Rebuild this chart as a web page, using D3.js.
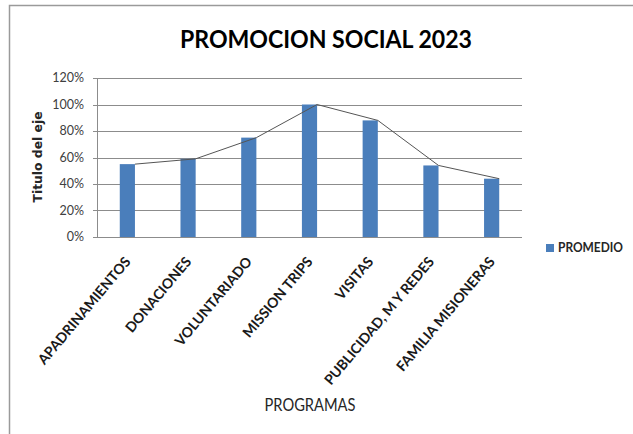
<!DOCTYPE html>
<html><head><meta charset="utf-8">
<script src="https://cdn.jsdelivr.net/npm/d3@7"></script>
<style>
html,body{margin:0;padding:0;background:#fff;}
svg{display:block;}
</style></head>
<body>
<script>
const categories = ["APADRINAMIENTOS","DONACIONES","VOLUNTARIADO","MISSION TRIPS","VISITAS","PUBLICIDAD, M Y REDES","FAMILIA MISIONERAS"];
const promedio = [0.55, 0.59, 0.75, 1.00, 0.88, 0.54, 0.44];
const yTicks = [0, 0.2, 0.4, 0.6, 0.8, 1.0, 1.2];
const seriesName = "PROMEDIO";
const title = "PROMOCION SOCIAL 2023";
const xTitle = "PROGRAMAS";
const yTitle = "Titulo del eje";

const W = 633, H = 434;
const svg = d3.select("body").append("svg").attr("width", W).attr("height", H);
const font = "Lato,'Open Sans',sans-serif";

// outer frame
svg.append("path").attr("d", `M9.5,${H} V5.5 H${W}`).attr("fill","none").attr("stroke","#9a9a9a").attr("stroke-width",1.5);

const plot = {l:97, r:522, t:78, b:237};
const x = d3.scaleBand().domain(categories).range([plot.l, plot.r]).paddingInner(0.75).paddingOuter(0.375);
const y = d3.scaleLinear().domain([0, 1.2]).range([plot.b, plot.t]);

// gridlines
svg.append("g").selectAll("line").data(yTicks).join("line")
  .attr("x1", plot.l - 4).attr("x2", plot.r)
  .attr("y1", d => Math.round(y(d)) + 0.5).attr("y2", d => Math.round(y(d)) + 0.5)
  .attr("stroke", "#8c8c8c").attr("stroke-width", 1);

// y axis line
svg.append("line").attr("x1", plot.l + 0.5).attr("x2", plot.l + 0.5).attr("y1", plot.t).attr("y2", plot.b)
  .attr("stroke", "#8c8c8c");

// y tick labels
svg.append("g").selectAll("text").data(yTicks).join("text")
  .attr("x", 84).attr("y", d => y(d)).attr("dy", "0.35em")
  .attr("text-anchor", "end").attr("font-family", font).attr("font-size", 12.5)
  .attr("fill", "#404040").text(d => d3.format(".0%")(d));

// bars
svg.append("g").selectAll("rect").data(promedio).join("rect")
  .attr("x", (d,i) => x(categories[i])).attr("width", x.bandwidth())
  .attr("y", d => y(d)).attr("height", d => y(0) - y(d))
  .attr("fill", "#4a7ebb");

// line connecting bar tops (right edges)
const line = d3.line()
  .x((d,i) => x(categories[i]) + x.bandwidth())
  .y(d => y(d));
svg.append("path").datum(promedio).attr("d", line)
  .attr("fill","none").attr("stroke","#555").attr("stroke-width",1);

// x labels
svg.append("g").selectAll("text").data(categories).join("text")
  .attr("transform", d => `translate(${x(d) + x.bandwidth()/2 + 4},${plot.b + 25}) rotate(-50)`)
  .attr("text-anchor","end").attr("font-family", font).attr("font-weight","bold")
  .attr("font-size", 14).attr("fill","#1a1a1a").text(d => d);

// title
svg.append("text").attr("x", 326).attr("y", 48).attr("text-anchor","middle")
  .attr("font-family", font).attr("font-weight","bold").attr("font-size", 24)
  .attr("textLength", 292).attr("lengthAdjust","spacingAndGlyphs")
  .attr("fill","#000").text(title);

// axis titles
svg.append("text").attr("x", 310).attr("y", 411).attr("text-anchor","middle")
  .attr("font-family", font).attr("font-size", 18).attr("textLength", 91).attr("lengthAdjust","spacingAndGlyphs")
  .attr("fill","#262626").text(xTitle);
svg.append("text").attr("transform", "translate(42,157) rotate(-90)").attr("text-anchor","middle")
  .attr("font-family", "'DejaVu Sans',Verdana,sans-serif").attr("font-weight","bold").attr("font-size", 12.5)
  .attr("textLength", 91).attr("lengthAdjust","spacingAndGlyphs")
  .attr("fill","#262626").text(yTitle);

// legend
const lg = svg.append("g").attr("transform","translate(546,244)");
lg.append("rect").attr("width",8).attr("height",8).attr("fill","#4a7ebb");
lg.append("text").attr("x",12).attr("y",4).attr("dy","0.35em")
  .attr("font-family", font).attr("font-weight","bold").attr("font-size",12.5)
  .attr("textLength", 65).attr("lengthAdjust","spacingAndGlyphs")
  .attr("fill","#262626").text(seriesName);
</script>
</body></html>
